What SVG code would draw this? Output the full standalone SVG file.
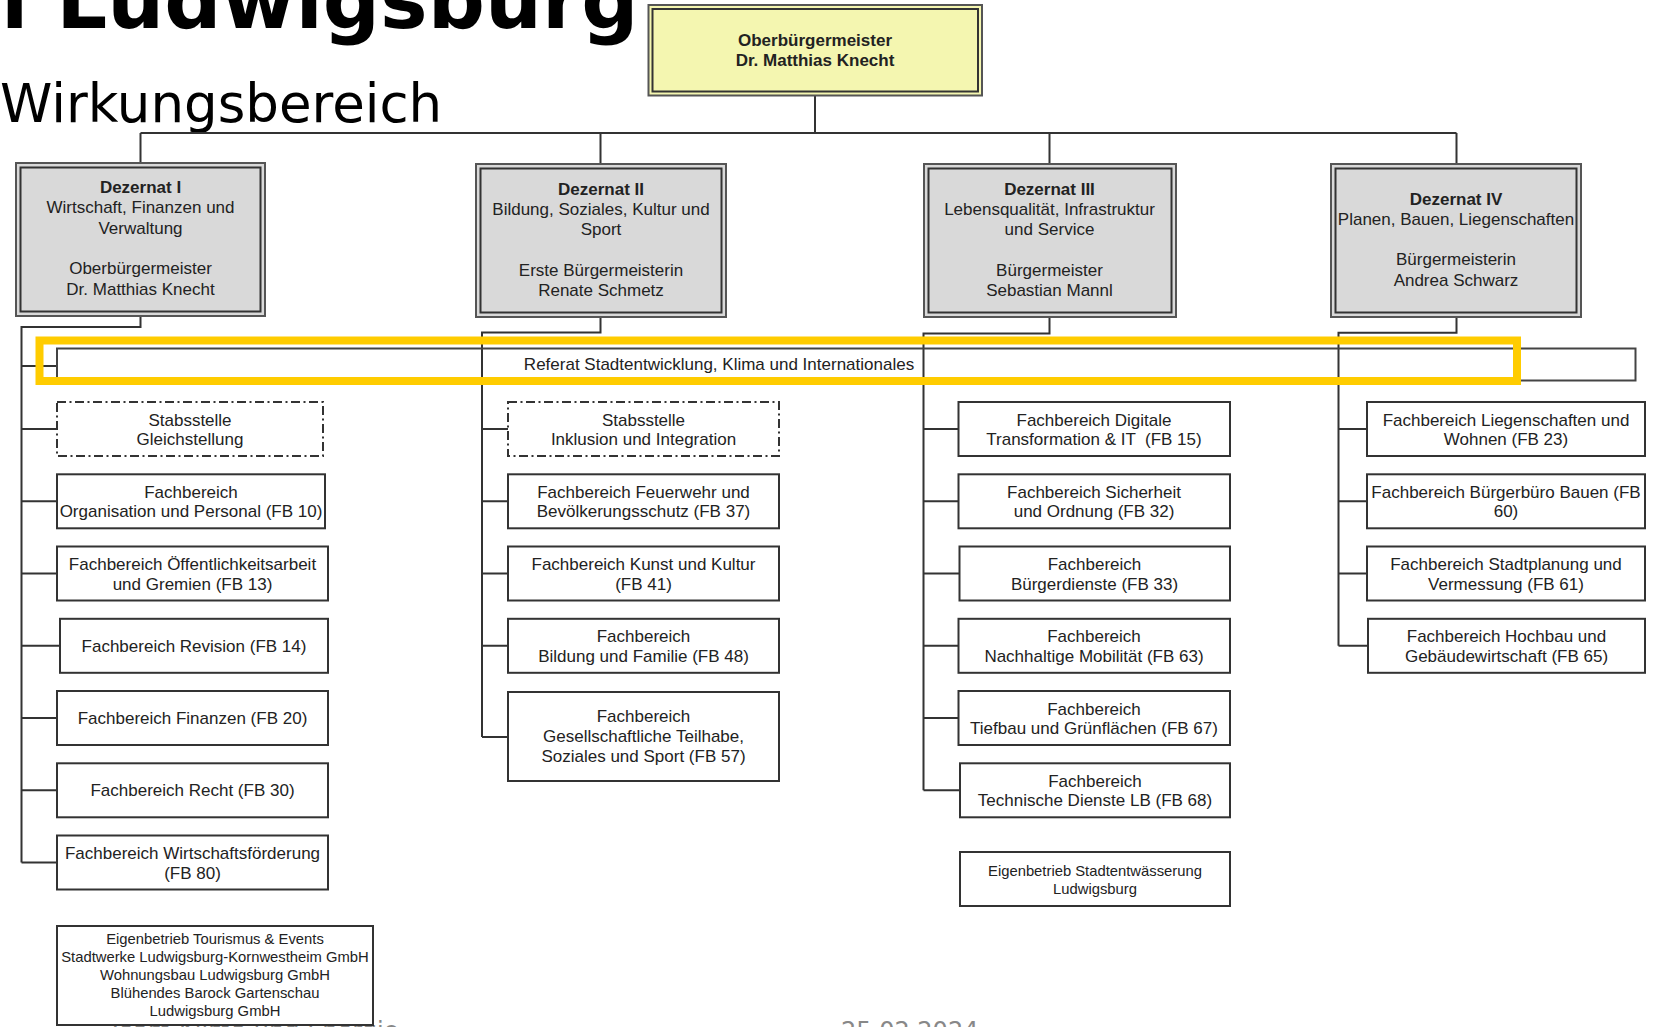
<svg xmlns="http://www.w3.org/2000/svg" width="1655" height="1027" viewBox="0 0 1655 1027">
<style>
.t{font-family:"Liberation Sans",Arial,sans-serif;font-size:17px;fill:#222;text-anchor:middle}
.b{font-weight:bold}
.s{font-size:14.8px}
.box{fill:#fff;stroke:#333;stroke-width:2}
.dash{fill:#fff;stroke:#333;stroke-width:2;stroke-dasharray:9 3.5 2 3.5}
.dezo{fill:#d9d9d9;stroke:#555;stroke-width:2}
.dezi{fill:none;stroke:#333;stroke-width:2}
.obo{fill:#f4f6b0;stroke:#555;stroke-width:2}
.ln{fill:none;stroke:#333;stroke-width:2}
.ref{fill:none;stroke:#444;stroke-width:2}
.hl{fill:none;stroke:#ffcc00;stroke-width:8}
.title{font-family:"DejaVu Sans",Verdana,sans-serif;fill:#000}
.foot{font-family:"DejaVu Sans",Verdana,sans-serif;font-size:24px;fill:#888}
</style>
<rect width="1655" height="1027" fill="#fff"/>
<text class="title" x="1" y="28" font-size="80" font-weight="bold">l Ludwigsburg</text>
<text class="title" x="0" y="122" font-size="53">Wirkungsbereich</text>
<text class="foot" x="108" y="1039">Team Klima und Energie</text>
<text class="foot" x="841" y="1039">25.02.2024</text>

<g id="connectors">
<path class="ln" d="M815 95V133M140.5 133H1456.5M140.5 133V163M600.5 133V164M1049.5 133V164M1456.5 133V164"/>
<path class="ln" d="M140.5 316V327H21.5V862.5M21.5 366H57M21.5 429H57M21.5 501.3H57M21.5 573.5H57M21.5 645.8H60M21.5 718H57M21.5 790.3H57M21.5 862.5H57"/>
<path class="ln" d="M600.5 317V332.5H482V737M482 429H508M482 501.3H508M482 573.5H508M482 645.8H508M482 737H508"/>
<path class="ln" d="M1049.5 317V333.5H923.5V790.3M923.5 429H958.5M923.5 501.3H958.5M923.5 573.5H959.5M923.5 645.8H958.5M923.5 718H958.5M923.5 790.3H960"/>
<path class="ln" d="M1456.5 317V332.7H1338.5V645.8M1338.5 429H1367M1338.5 501.3H1367M1338.5 573.5H1367M1338.5 645.8H1368"/>
</g>

<g id="ob">
<rect class="obo" x="648.5" y="5" width="333.5" height="90.5"/>
<rect class="dezi" x="652.5" y="9" width="325.5" height="82.5"/>
<text class="t b" x="815" y="45.5" font-size="16.5">Oberbürgermeister</text>
<text class="t b" x="815" y="66" font-size="16.5">Dr. Matthias Knecht</text>
</g>

<g id="dez1">
<rect class="dezo" x="16" y="163" width="249" height="153"/>
<rect class="dezi" x="20.5" y="167.5" width="240" height="144"/>
<text class="t b" x="140.5" y="193">Dezernat I</text>
<text class="t" x="140.5" y="213.3">Wirtschaft, Finanzen und</text>
<text class="t" x="140.5" y="233.6">Verwaltung</text>
<text class="t" x="140.5" y="274.2">Oberbürgermeister</text>
<text class="t" x="140.5" y="294.5">Dr. Matthias Knecht</text>
</g>
<g id="dez2">
<rect class="dezo" x="476" y="164" width="250" height="153"/>
<rect class="dezi" x="480.5" y="168.5" width="241" height="144"/>
<text class="t b" x="601" y="194.5">Dezernat II</text>
<text class="t" x="601" y="214.8">Bildung, Soziales, Kultur und</text>
<text class="t" x="601" y="235.1">Sport</text>
<text class="t" x="601" y="275.7">Erste Bürgermeisterin</text>
<text class="t" x="601" y="296">Renate Schmetz</text>
</g>
<g id="dez3">
<rect class="dezo" x="924" y="164" width="252" height="153"/>
<rect class="dezi" x="928.5" y="168.5" width="243" height="144"/>
<text class="t b" x="1049.5" y="194.5">Dezernat III</text>
<text class="t" x="1049.5" y="214.8">Lebensqualität, Infrastruktur</text>
<text class="t" x="1049.5" y="235.1">und Service</text>
<text class="t" x="1049.5" y="275.7">Bürgermeister</text>
<text class="t" x="1049.5" y="296">Sebastian Mannl</text>
</g>
<g id="dez4">
<rect class="dezo" x="1331" y="164" width="250" height="153"/>
<rect class="dezi" x="1335.5" y="168.5" width="241" height="144"/>
<text class="t b" x="1456" y="204.5">Dezernat IV</text>
<text class="t" x="1456" y="224.8">Planen, Bauen, Liegenschaften</text>
<text class="t" x="1456" y="265.4">Bürgermeisterin</text>
<text class="t" x="1456" y="285.7">Andrea Schwarz</text>
</g>

<g id="referat">
<rect class="ref" x="57" y="348.5" width="1578.5" height="32"/>
<text class="t" x="719" y="370">Referat Stadtentwicklung, Klima und Internationales</text>
</g>

<g id="stab-gleich">
<rect class="dash" x="57" y="402" width="266" height="54"/>
<text class="t" x="190" y="425.5">Stabsstelle</text>
<text class="t" x="190" y="445">Gleichstellung</text>
</g>
<g id="fb10">
<rect class="box" x="57" y="474.3" width="268" height="54"/>
<text class="t" x="191" y="497.8">Fachbereich</text>
<text class="t" x="191" y="517.3">Organisation und Personal (FB 10)</text>
</g>
<g id="fb13">
<rect class="box" x="57" y="546.5" width="271" height="54"/>
<text class="t" x="192.5" y="570">Fachbereich Öffentlichkeitsarbeit</text>
<text class="t" x="192.5" y="589.5">und Gremien (FB 13)</text>
</g>
<g id="fb14">
<rect class="box" x="60" y="618.8" width="268" height="54"/>
<text class="t" x="194" y="651.8">Fachbereich Revision (FB 14)</text>
</g>
<g id="fb20">
<rect class="box" x="57" y="691" width="271" height="54"/>
<text class="t" x="192.5" y="724">Fachbereich Finanzen (FB 20)</text>
</g>
<g id="fb30">
<rect class="box" x="57" y="763.3" width="271" height="54"/>
<text class="t" x="192.5" y="796.3">Fachbereich Recht (FB 30)</text>
</g>
<g id="fb80">
<rect class="box" x="57" y="835.5" width="271" height="54"/>
<text class="t" x="192.5" y="859">Fachbereich Wirtschaftsförderung</text>
<text class="t" x="192.5" y="878.5">(FB 80)</text>
</g>
<g id="eigen-tourismus">
<rect class="box" x="57" y="926" width="316" height="99"/>
<text class="t s" x="215" y="944">Eigenbetrieb Tourismus &amp; Events</text>
<text class="t s" x="215" y="962">Stadtwerke Ludwigsburg-Kornwestheim GmbH</text>
<text class="t s" x="215" y="980">Wohnungsbau Ludwigsburg GmbH</text>
<text class="t s" x="215" y="998">Blühendes Barock Gartenschau</text>
<text class="t s" x="215" y="1016">Ludwigsburg GmbH</text>
</g>

<g id="stab-inklusion">
<rect class="dash" x="508" y="402" width="271" height="54"/>
<text class="t" x="643.5" y="425.5">Stabsstelle</text>
<text class="t" x="643.5" y="445">Inklusion und Integration</text>
</g>
<g id="fb37">
<rect class="box" x="508" y="474.3" width="271" height="54"/>
<text class="t" x="643.5" y="497.8">Fachbereich Feuerwehr und</text>
<text class="t" x="643.5" y="517.3">Bevölkerungsschutz (FB 37)</text>
</g>
<g id="fb41">
<rect class="box" x="508" y="546.5" width="271" height="54"/>
<text class="t" x="643.5" y="570">Fachbereich Kunst und Kultur</text>
<text class="t" x="643.5" y="589.5">(FB 41)</text>
</g>
<g id="fb48">
<rect class="box" x="508" y="618.8" width="271" height="54"/>
<text class="t" x="643.5" y="642.3">Fachbereich</text>
<text class="t" x="643.5" y="661.8">Bildung und Familie (FB 48)</text>
</g>
<g id="fb57">
<rect class="box" x="508" y="692" width="271" height="89"/>
<text class="t" x="643.5" y="721.6">Fachbereich</text>
<text class="t" x="643.5" y="741.7">Gesellschaftliche Teilhabe,</text>
<text class="t" x="643.5" y="761.7">Soziales und Sport (FB 57)</text>
</g>

<g id="fb15">
<rect class="box" x="958.5" y="402" width="271.5" height="54"/>
<text class="t" x="1094" y="425.5">Fachbereich Digitale</text>
<text class="t" x="1094" y="445" xml:space="preserve">Transformation &amp; IT  (FB 15)</text>
</g>
<g id="fb32">
<rect class="box" x="958.5" y="474.3" width="271.5" height="54"/>
<text class="t" x="1094" y="497.8">Fachbereich Sicherheit</text>
<text class="t" x="1094" y="517.3">und Ordnung (FB 32)</text>
</g>
<g id="fb33">
<rect class="box" x="959.5" y="546.5" width="270.5" height="54"/>
<text class="t" x="1094.5" y="570">Fachbereich</text>
<text class="t" x="1094.5" y="589.5">Bürgerdienste (FB 33)</text>
</g>
<g id="fb63">
<rect class="box" x="958.5" y="618.8" width="271.5" height="54"/>
<text class="t" x="1094" y="642.3">Fachbereich</text>
<text class="t" x="1094" y="661.8">Nachhaltige Mobilität (FB 63)</text>
</g>
<g id="fb67">
<rect class="box" x="958.5" y="691" width="271.5" height="54"/>
<text class="t" x="1094" y="714.5">Fachbereich</text>
<text class="t" x="1094" y="734">Tiefbau und Grünflächen (FB 67)</text>
</g>
<g id="fb68">
<rect class="box" x="960" y="763.3" width="270" height="54"/>
<text class="t" x="1095" y="786.8">Fachbereich</text>
<text class="t" x="1095" y="806.3">Technische Dienste LB (FB 68)</text>
</g>
<g id="eigen-stadtentwaesserung">
<rect class="box" x="960" y="852" width="270" height="54"/>
<text class="t s" x="1095" y="875.5">Eigenbetrieb Stadtentwässerung</text>
<text class="t s" x="1095" y="893.5">Ludwigsburg</text>
</g>

<g id="fb23">
<rect class="box" x="1367" y="402" width="278" height="54"/>
<text class="t" x="1506" y="425.5">Fachbereich Liegenschaften und</text>
<text class="t" x="1506" y="445">Wohnen (FB 23)</text>
</g>
<g id="fb60">
<rect class="box" x="1367" y="474.3" width="278" height="54"/>
<text class="t" x="1506" y="497.8">Fachbereich Bürgerbüro Bauen (FB</text>
<text class="t" x="1506" y="517.3">60)</text>
</g>
<g id="fb61">
<rect class="box" x="1367" y="546.5" width="278" height="54"/>
<text class="t" x="1506" y="570">Fachbereich Stadtplanung und</text>
<text class="t" x="1506" y="589.5">Vermessung (FB 61)</text>
</g>
<g id="fb65">
<rect class="box" x="1368" y="618.8" width="277" height="54"/>
<text class="t" x="1506.5" y="642.3">Fachbereich Hochbau und</text>
<text class="t" x="1506.5" y="661.8">Gebäudewirtschaft (FB 65)</text>
</g>

<rect class="hl" x="39.5" y="340.5" width="1477.5" height="40.5"/>
</svg>
